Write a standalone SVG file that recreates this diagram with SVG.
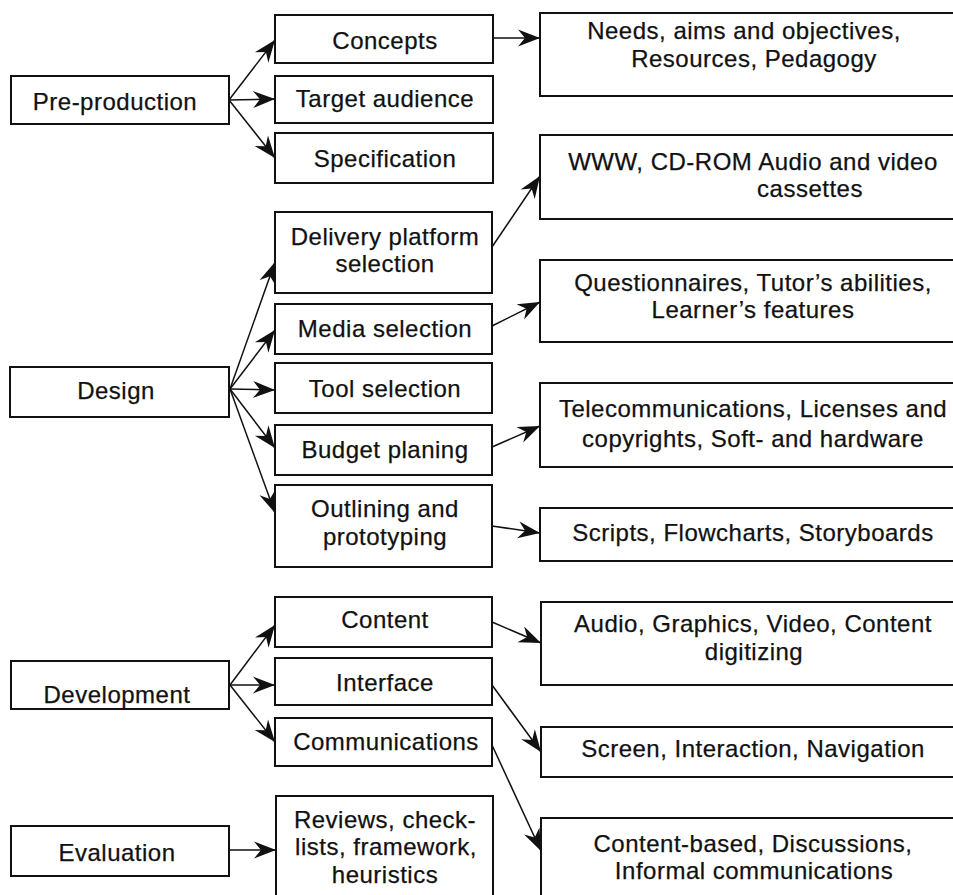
<svg xmlns="http://www.w3.org/2000/svg" width="953" height="895" viewBox="0 0 953 895">
  <style>
    .box { fill: #fff; stroke: #111; stroke-width: 2; }
    .lbl { font-family: "Liberation Sans", Arial, sans-serif; font-size: 24px; letter-spacing: 0.5px; fill: #111; stroke: #111; stroke-width: 0.25; text-anchor: middle; }
    .link { fill: none; stroke: #111; stroke-width: 1.5; marker-end: url(#arr); }
  </style>
  <defs>
    <marker id="arr" markerUnits="userSpaceOnUse" viewBox="-24 -10 25 20" refX="0" refY="0" markerWidth="25" markerHeight="20" orient="auto">
      <path d="M0,0 L-22,-8.5 L-15,0 L-22,8.5 Z" fill="#111"/>
    </marker>
  </defs>
  <rect width="953" height="895" fill="#fff"/>

  <!-- connectors -->
  <g id="connectors">
    <line class="link" x1="229" y1="100" x2="275" y2="40"/>
    <line class="link" x1="229" y1="100" x2="275" y2="99"/>
    <line class="link" x1="229" y1="100" x2="275" y2="158"/>
    <line class="link" x1="493" y1="38" x2="540" y2="38"/>

    <line class="link" x1="230" y1="389" x2="275" y2="262"/>
    <line class="link" x1="230" y1="389" x2="275" y2="330"/>
    <line class="link" x1="230" y1="389" x2="275" y2="390"/>
    <line class="link" x1="230" y1="389" x2="275" y2="448"/>
    <line class="link" x1="230" y1="389" x2="275" y2="513"/>

    <line class="link" x1="492" y1="247" x2="540" y2="176"/>
    <line class="link" x1="492" y1="326" x2="540" y2="302"/>
    <line class="link" x1="492" y1="447" x2="540" y2="426"/>
    <line class="link" x1="492" y1="526" x2="540" y2="533"/>

    <line class="link" x1="230" y1="685" x2="275" y2="625"/>
    <line class="link" x1="230" y1="685" x2="275" y2="685"/>
    <line class="link" x1="230" y1="685" x2="275" y2="742"/>

    <line class="link" x1="229" y1="850" x2="276" y2="850"/>

    <line class="link" x1="492" y1="622" x2="541" y2="643"/>
    <line class="link" x1="492" y1="685" x2="541" y2="752"/>
    <line class="link" x1="492" y1="745" x2="541" y2="851"/>
  </g>

  <!-- phases -->
  <g id="pre-production">
    <rect class="box" x="11" y="76" width="218" height="48"/>
    <text class="lbl" x="115" y="110">Pre-production</text>
  </g>
  <g id="design">
    <rect class="box" x="10" y="367" width="219" height="50"/>
    <text class="lbl" x="116" y="399">Design</text>
  </g>
  <g id="development">
    <rect class="box" x="11" y="661" width="218" height="48"/>
    <text class="lbl" x="117" y="703">Development</text>
  </g>
  <g id="evaluation">
    <rect class="box" x="11" y="826" width="218" height="50"/>
    <text class="lbl" x="117" y="861">Evaluation</text>
  </g>

  <!-- activities -->
  <g id="concepts">
    <rect class="box" x="275" y="15" width="218" height="48"/>
    <text class="lbl" x="385" y="49">Concepts</text>
  </g>
  <g id="target-audience">
    <rect class="box" x="275" y="76" width="218" height="47"/>
    <text class="lbl" x="385" y="107">Target audience</text>
  </g>
  <g id="specification">
    <rect class="box" x="275" y="133" width="218" height="50"/>
    <text class="lbl" x="385" y="167">Specification</text>
  </g>
  <g id="delivery-platform">
    <rect class="box" x="275" y="212" width="217" height="81"/>
    <text class="lbl" x="385" y="245">Delivery platform</text>
    <text class="lbl" x="385" y="272">selection</text>
  </g>
  <g id="media-selection">
    <rect class="box" x="275" y="304" width="217" height="50"/>
    <text class="lbl" x="385" y="337">Media selection</text>
  </g>
  <g id="tool-selection">
    <rect class="box" x="275" y="363" width="217" height="50"/>
    <text class="lbl" x="385" y="397">Tool selection</text>
  </g>
  <g id="budget-planing">
    <rect class="box" x="275" y="425" width="217" height="50"/>
    <text class="lbl" x="385" y="458">Budget planing</text>
  </g>
  <g id="outlining">
    <rect class="box" x="275" y="485" width="217" height="82"/>
    <text class="lbl" x="385" y="517">Outlining and</text>
    <text class="lbl" x="385" y="545">prototyping</text>
  </g>
  <g id="content">
    <rect class="box" x="275" y="597" width="217" height="50"/>
    <text class="lbl" x="385" y="628">Content</text>
  </g>
  <g id="interface">
    <rect class="box" x="275" y="658" width="217" height="47"/>
    <text class="lbl" x="385" y="691">Interface</text>
  </g>
  <g id="communications">
    <rect class="box" x="275" y="718" width="217" height="48"/>
    <text class="lbl" x="386" y="750">Communications</text>
  </g>
  <g id="reviews">
    <rect class="box" x="276" y="796" width="217" height="110"/>
    <text class="lbl" x="385" y="828">Reviews, check-</text>
    <text class="lbl" x="386" y="855">lists, framework,</text>
    <text class="lbl" x="385" y="883">heuristics</text>
  </g>

  <!-- details -->
  <g id="needs">
    <rect class="box" x="540" y="13" width="460" height="83"/>
    <text class="lbl" x="744" y="39">Needs, aims and objectives,</text>
    <text class="lbl" x="754" y="67">Resources, Pedagogy</text>
  </g>
  <g id="platforms">
    <rect class="box" x="540" y="135" width="460" height="84"/>
    <text class="lbl" x="753" y="170">WWW, CD-ROM Audio and video</text>
    <text class="lbl" x="810" y="197">cassettes</text>
  </g>
  <g id="questionnaires">
    <rect class="box" x="540" y="260" width="460" height="82"/>
    <text class="lbl" x="753" y="291">Questionnaires, Tutor’s abilities,</text>
    <text class="lbl" x="753" y="318">Learner’s features</text>
  </g>
  <g id="telecommunications">
    <rect class="box" x="540" y="383" width="460" height="84"/>
    <text class="lbl" x="753" y="417">Telecommunications, Licenses and</text>
    <text class="lbl" x="753" y="447">copyrights, Soft- and hardware</text>
  </g>
  <g id="scripts">
    <rect class="box" x="540" y="508" width="460" height="53"/>
    <text class="lbl" x="753" y="541">Scripts, Flowcharts, Storyboards</text>
  </g>
  <g id="media-content">
    <rect class="box" x="541" y="602" width="460" height="83"/>
    <text class="lbl" x="753" y="632">Audio, Graphics, Video, Content</text>
    <text class="lbl" x="754" y="660">digitizing</text>
  </g>
  <g id="screen">
    <rect class="box" x="541" y="727" width="460" height="50"/>
    <text class="lbl" x="753" y="757">Screen, Interaction, Navigation</text>
  </g>
  <g id="content-based">
    <rect class="box" x="541" y="818" width="460" height="90"/>
    <text class="lbl" x="753" y="852">Content-based, Discussions,</text>
    <text class="lbl" x="754" y="879">Informal communications</text>
  </g>
</svg>
